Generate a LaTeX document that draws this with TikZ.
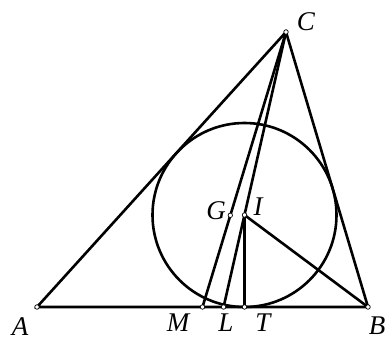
\documentclass[tikz,border=0pt]{standalone}
\usepackage{fontspec}
\setmainfont{Liberation Serif}
\begin{document}
\begin{tikzpicture}[x=1pt,y=-1pt,
  seg/.style={line width=2.6pt,line cap=round},
  pt/.style={circle,draw=black,fill=white,line width=0.7pt,inner sep=0pt,minimum size=4.5pt},
  lab/.style={font=\fontsize{27}{27}\selectfont\itshape,inner sep=0pt}]
\useasboundingbox (0,0) rectangle (386,343);
\coordinate (A) at (37,307);
\coordinate (B) at (368,307);
\coordinate (C) at (286,32);
\coordinate (I) at (244.5,215);
\coordinate (G) at (230.3,215.3);
\coordinate (M) at (202.5,307);
\coordinate (L) at (223.6,307);
\coordinate (T) at (244.5,307);
\draw[seg] (I) circle (92);
\draw[seg] (A) -- (B) -- (C) -- cycle;
\draw[seg] (C) -- (M);
\draw[seg] (C) -- (L);
\draw[seg] (I) -- (T);
\draw[seg] (I) -- (B);
\foreach \p in {A,B,C,I,G,M,L,T} \node[pt] (d\p) at (\p) {};
\node[lab] (lA) at (20,327) {A};
\node[lab] (lB) at (377,326) {B};
\node[lab] (lC) at (306,22) {C};
\node[lab] (lM) at (178,323) {M};
\node[lab] (lL) at (226,323) {L};
\node[lab] (lT) at (263,323) {T};
\node[lab] (lG) at (216,211) {G};
\node[lab] (lI) at (258,207) {I};
\end{tikzpicture}
\end{document}
